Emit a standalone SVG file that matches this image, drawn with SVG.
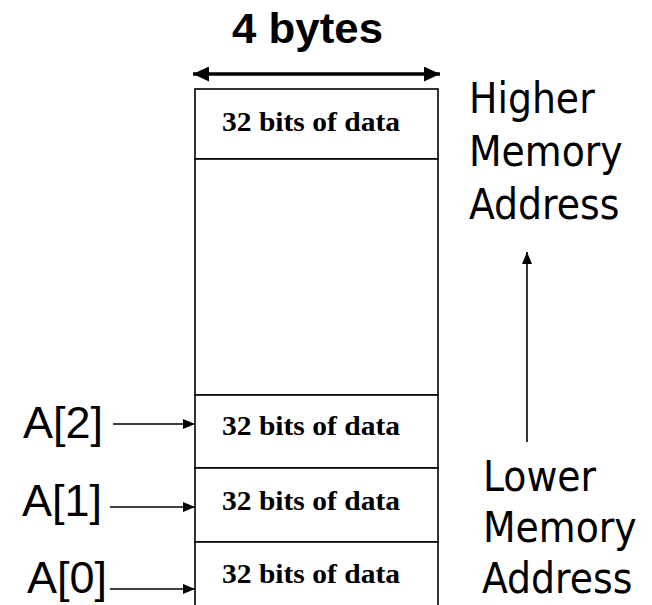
<svg xmlns="http://www.w3.org/2000/svg" width="652" height="605" viewBox="0 0 652 605">
  <style>
    .cell { fill: #ffffff; stroke: #000000; stroke-width: 1.6; }
    .data { font-family: "Liberation Serif", "Times New Roman", serif; font-weight: bold; font-size: 28px; fill: #000000; }
    .idx { font-family: "Liberation Sans", Arial, sans-serif; font-size: 45px; fill: #000000; }
    .side { font-family: "DejaVu Sans Condensed", "DejaVu Sans", sans-serif; font-stretch: condensed; font-size: 42px; fill: #000000; }
    .title { font-family: "Liberation Sans", Arial, sans-serif; font-weight: bold; font-size: 42px; fill: #000000; }
    .conn { stroke: #000000; fill: none; }
  </style>
  <defs>
    <marker id="head" viewBox="0 0 12 10" refX="12" refY="5" markerWidth="12" markerHeight="10" markerUnits="userSpaceOnUse" orient="auto-start-reverse">
      <path d="M0,0 L12,5 L0,10 Z" fill="#000000"/>
    </marker>
    <marker id="bighead" viewBox="0 0 16 15" refX="16" refY="7.5" markerWidth="16" markerHeight="15" markerUnits="userSpaceOnUse" orient="auto-start-reverse">
      <path d="M0,0 L16,7.5 L0,15 Z" fill="#000000"/>
    </marker>
  </defs>

  <rect width="652" height="605" fill="#ffffff"/>

  <!-- width label -->
  <g id="width-label">
    <text class="title" x="307.5" y="43" text-anchor="middle" textLength="151" lengthAdjust="spacingAndGlyphs">4 bytes</text>
  </g>

  <!-- memory words -->
  <g id="word-top">
    <rect class="cell" x="195" y="89" width="243" height="70"/>
    <text class="data" x="311" y="131" text-anchor="middle" textLength="178" lengthAdjust="spacingAndGlyphs">32 bits of data</text>
  </g>
  <g id="word-gap">
    <rect class="cell" x="195" y="159" width="243" height="236"/>
  </g>
  <g id="word-a2">
    <rect class="cell" x="195" y="395" width="243" height="73"/>
    <text class="data" x="311" y="435" text-anchor="middle" textLength="178" lengthAdjust="spacingAndGlyphs">32 bits of data</text>
  </g>
  <g id="word-a1">
    <rect class="cell" x="195" y="468" width="243" height="74"/>
    <text class="data" x="311" y="510" text-anchor="middle" textLength="178" lengthAdjust="spacingAndGlyphs">32 bits of data</text>
  </g>
  <g id="word-a0">
    <rect class="cell" x="195" y="542" width="243" height="70"/>
    <text class="data" x="311" y="583" text-anchor="middle" textLength="178" lengthAdjust="spacingAndGlyphs">32 bits of data</text>
  </g>

  <!-- element labels -->
  <g id="label-a2"><text class="idx" x="23" y="438">A[2]</text></g>
  <g id="label-a1"><text class="idx" x="22" y="516">A[1]</text></g>
  <g id="label-a0"><text class="idx" x="27" y="593">A[0]</text></g>

  <!-- address direction labels -->
  <g id="label-higher">
    <text class="side" x="469" y="113">Higher</text>
    <text class="side" x="469" y="166">Memory</text>
    <text class="side" x="469" y="219">Address</text>
  </g>
  <g id="label-lower">
    <text class="side" x="483" y="491">Lower</text>
    <text class="side" x="483" y="542">Memory</text>
    <text class="side" x="482" y="593">Address</text>
  </g>

  <!-- connectors -->
  <g id="connectors" class="conn">
    <line x1="193" y1="74" x2="440" y2="74" stroke-width="3.5" marker-start="url(#bighead)" marker-end="url(#bighead)"/>
    <line x1="113" y1="424" x2="195" y2="424" stroke-width="1.6" marker-end="url(#head)"/>
    <line x1="110" y1="507" x2="195" y2="507" stroke-width="1.6" marker-end="url(#head)"/>
    <line x1="110" y1="589" x2="195" y2="589" stroke-width="1.6" marker-end="url(#head)"/>
    <line x1="527" y1="442" x2="527" y2="252" stroke-width="1.6" marker-end="url(#head)"/>
  </g>
</svg>
